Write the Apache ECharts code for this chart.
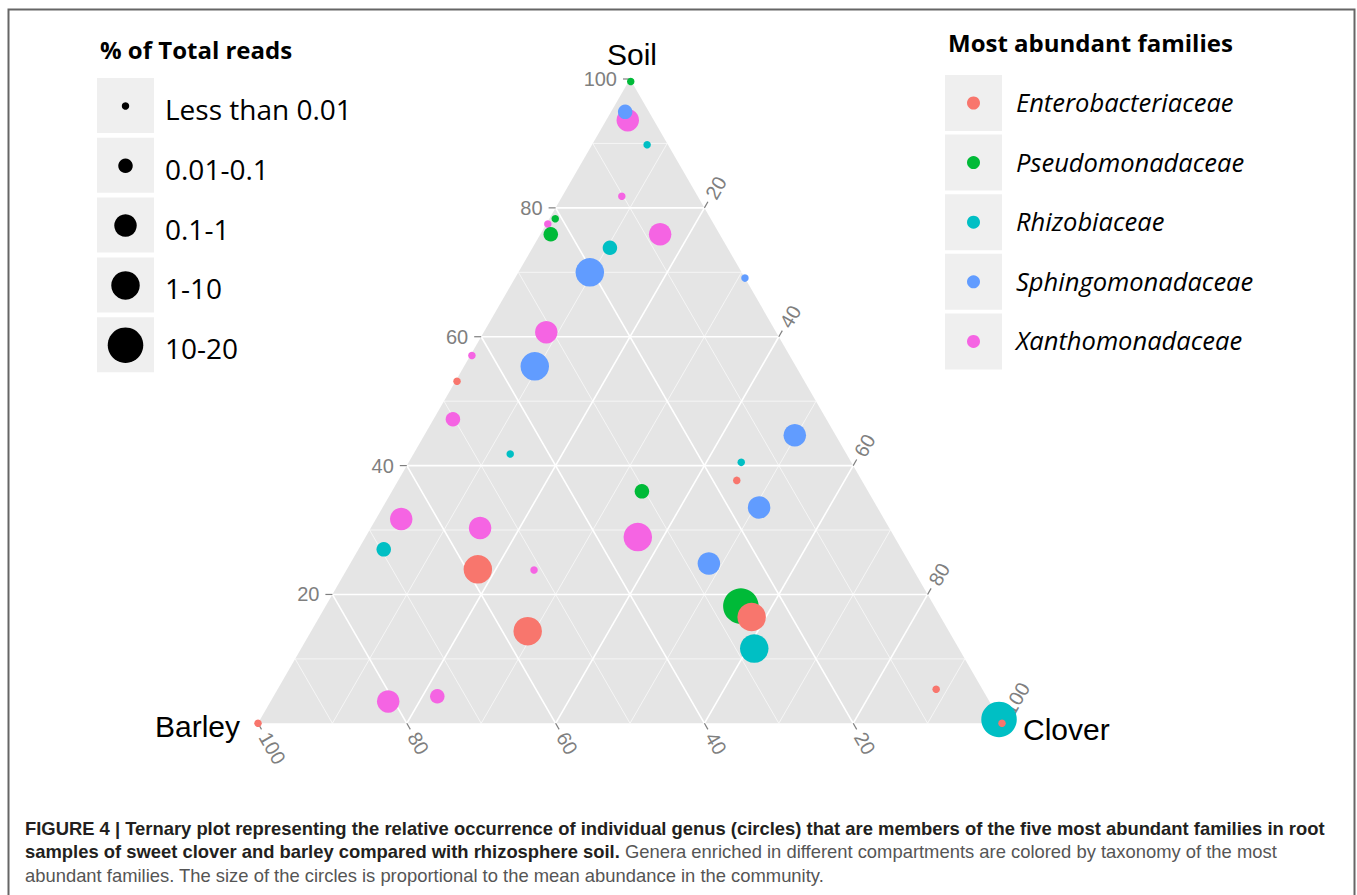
<!DOCTYPE html>
<html>
<head>
<meta charset="utf-8">
<script src="https://cdn.jsdelivr.net/npm/echarts@6/dist/echarts.min.js"></script>
<style>
  html, body { margin: 0; padding: 0; background: #ffffff; }
  #chart { width: 1357px; height: 895px; }
</style>
</head>
<body>
<div id="chart"></div>
<script>
// ---- Ternary axes -------------------------------------------------------
const AXIS_NAMES = ['Soil', 'Barley', 'Clover'];
const TICKS = [20, 40, 60, 80, 100];
const GRID_MAJOR = [20, 40, 60, 80];
const GRID_MINOR = [10, 30, 50, 70, 90];

// ---- Families and abundance classes ------------------------------------
const FAMILIES = ['Enterobacteriaceae', 'Pseudomonadaceae', 'Rhizobiaceae', 'Sphingomonadaceae', 'Xanthomonadaceae'];
const FAMILY_COLORS = ['#F8766D', '#00BA38', '#00BFC4', '#619CFF', '#F564E3'];
const ABUNDANCE_CLASSES = ['Less than 0.01', '0.01-0.1', '0.1-1', '1-10', '10-20'];
const CLASS_SIZES = [7.5, 14.5, 22.5, 28.5, 35.5];

// Genera: [soil %, barley %, clover %, abundance class index]
const enterobacteriaceae = [
  [53.1, 46.7, 0.2, 0],
  [23.9, 58.5, 17.6, 3],
  [14.3, 56.6, 29.1, 3],
  [0.0, 100.0, 0.0, 0],
  [37.7, 16.8, 45.5, 0],
  [16.5, 25.4, 58.1, 3],
  [5.3, 6.2, 88.5, 0],
  [0.0, 0.0, 100.0, 0]
];
const pseudomonadaceae = [
  [99.6, 0.1, 0.3, 0],
  [78.3, 20.9, 0.8, 0],
  [75.9, 22.7, 1.4, 1],
  [36.0, 30.4, 33.6, 1],
  [18.2, 26.0, 55.8, 4]
];
const rhizobiaceae = [
  [89.8, 2.8, 7.4, 0],
  [73.8, 15.8, 10.4, 1],
  [41.8, 45.2, 13.0, 0],
  [27.0, 69.6, 3.4, 1],
  [40.5, 14.8, 44.7, 0],
  [11.6, 27.5, 60.9, 3],
  [0.6, 0.1, 99.3, 4]
];
const sphingomonadaceae = [
  [94.9, 3.2, 1.9, 1],
  [70.0, 20.4, 9.6, 3],
  [69.1, 0.0, 30.9, 0],
  [55.4, 35.1, 9.5, 3],
  [24.8, 27.0, 48.2, 2],
  [44.7, 5.5, 49.8, 2],
  [33.5, 15.9, 50.6, 2]
];
const xanthomonadaceae = [
  [93.6, 3.5, 2.9, 2],
  [81.8, 10.2, 8.0, 0],
  [77.5, 22.3, 0.2, 0],
  [75.9, 8.0, 16.1, 2],
  [60.7, 30.9, 8.4, 2],
  [57.1, 42.7, 0.2, 0],
  [47.2, 50.2, 2.6, 1],
  [31.7, 64.9, 3.4, 2],
  [30.3, 55.0, 14.7, 2],
  [23.8, 51.0, 25.2, 0],
  [28.9, 34.5, 36.6, 3],
  [3.4, 80.8, 15.8, 2],
  [4.2, 73.8, 22.0, 1]
];
const FAMILY_POINTS = [enterobacteriaceae, pseudomonadaceae, rhizobiaceae, sphingomonadaceae, xanthomonadaceae];
// painting order, bottom to top
const DRAW_ORDER = [4, 1, 2, 3, 0];

// ---- Caption -------------------------------------------------------------
const CAPTION_LINES = [
  [['b', 'FIGURE 4 | Ternary plot representing the relative occurrence of individual genus (circles) that are members of the five most abundant families in root']],
  [['b', 'samples of sweet clover and barley compared with rhizosphere soil.'], ['r', ' Genera enriched in different compartments are colored by taxonomy of the most']],
  [['r', 'abundant families. The size of the circles is proportional to the mean abundance in the community.']]
];

// ---- Geometry helpers ----------------------------------------------------
const H = Math.sqrt(3) / 2;
// composition -> cartesian (x in 0..100, y in 0..100*H)
function toXY(soil, barley, clover) {
  const t = soil + barley + clover;
  return [(clover + soil / 2) / t * 100, soil / t * 100 * H];
}

const TICK_LEN = 7;
const TICK_GAPS = [6, 5, 5];
// outward tick directions (screen px) for soil (left), clover (right), barley (bottom)
const TICK_DIRS = [[-1, 0], [0.5, -H], [0.5, H]];
const TICK_ROT = [0, Math.PI / 3, -Math.PI / 3];
const TICK_FONT = '20px "Liberation Sans", Arial, Helvetica, sans-serif';
const TITLE_FONT = '30px "Liberation Sans", Arial, Helvetica, sans-serif';
const LEGEND_FONT = '"Open Sans", Lato, sans-serif';
const CAPTION_FONT = '18.4px "Liberation Sans", Arial, Helvetica, sans-serif';

// grid lines: [x1, y1, x2, y2, isMajor]
function ternaryLines(v, major) {
  const pairs = [
    [toXY(v, 100 - v, 0), toXY(v, 0, 100 - v)],     // soil = v
    [toXY(100 - v, 0, v), toXY(0, 100 - v, v)],     // clover = v
    [toXY(100 - v, v, 0), toXY(0, v, 100 - v)]      // barley = v
  ];
  return pairs.map(p => [p[0][0], p[0][1], p[1][0], p[1][1], major]);
}
const gridData = [];
GRID_MINOR.forEach(v => gridData.push(...ternaryLines(v, 0)));
GRID_MAJOR.forEach(v => gridData.push(...ternaryLines(v, 1)));

// tick marks: [x, y, axis index, value]
const tickData = [];
TICKS.forEach(v => {
  const s = toXY(v, 100 - v, 0);
  const c = toXY(100 - v, 0, v);
  const b = toXY(0, v, 100 - v);
  tickData.push([s[0], s[1], 0, v], [c[0], c[1], 1, v], [b[0], b[1], 2, v]);
});

// vertex titles: [x, y, name index]
const vertexData = [
  [...toXY(100, 0, 0), 0],
  [...toXY(0, 100, 0), 1],
  [...toXY(0, 0, 100), 2]
];
const TITLE_LAYOUT = [
  { dx: 2, dy: -10, align: 'center', va: 'bottom' },
  { dx: -18, dy: 3, align: 'right', va: 'middle' },
  { dx: 21, dy: 6, align: 'left', va: 'middle' }
];

const scatterSeries = DRAW_ORDER.map(fi => ({
  type: 'scatter',
  name: FAMILIES[fi],
  clip: false,
  z: 5,
  symbol: 'circle',
  symbolSize: val => CLASS_SIZES[val[2]],
  itemStyle: { color: FAMILY_COLORS[fi], opacity: 1 },
  data: FAMILY_POINTS[fi].map(p => [...toXY(p[0], p[1], p[2]), p[3]]),
  emphasis: { disabled: true }
}));

// ---- Legends (drawn as graphic elements) --------------------------------
const graphics = [];
// figure frame
graphics.push({
  type: 'rect', shape: { x: 8.5, y: 9.5, width: 1346, height: 900 },
  style: { fill: 'none', stroke: '#666666', lineWidth: 2 }, silent: true
});
// abundance legend
graphics.push({
  type: 'text', x: 100, y: 49,
  style: { text: '% of Total reads', font: 'bold 24px ' + LEGEND_FONT, fill: '#000', verticalAlign: 'middle' }
});
ABUNDANCE_CLASSES.forEach((label, i) => {
  const top = 78 + i * 59.8;
  graphics.push({ type: 'rect', shape: { x: 97, y: top, width: 57, height: 55 }, style: { fill: '#EFEFEF' } });
  graphics.push({ type: 'circle', shape: { cx: 125.5, cy: top + 28, r: CLASS_SIZES[i] / 2 }, style: { fill: '#000' } });
  graphics.push({
    type: 'text', x: 165, y: top + 31,
    style: { text: label, font: '28px ' + LEGEND_FONT, fill: '#000', verticalAlign: 'middle' }
  });
});
// family legend
graphics.push({
  type: 'text', x: 948, y: 42,
  style: { text: 'Most abundant families', font: 'bold 24px ' + LEGEND_FONT, fill: '#000', verticalAlign: 'middle' }
});
FAMILIES.forEach((name, i) => {
  const top = 75 + i * 59.6;
  graphics.push({ type: 'rect', shape: { x: 945, y: top, width: 57, height: 56 }, style: { fill: '#EFEFEF' } });
  graphics.push({ type: 'circle', shape: { cx: 973.5, cy: top + 28, r: 6.5 }, style: { fill: FAMILY_COLORS[i] } });
  graphics.push({
    type: 'text', x: 1016, y: top + 27,
    style: { text: name, font: 'italic 25.5px ' + LEGEND_FONT, fill: '#000', verticalAlign: 'middle' }
  });
});
// caption
CAPTION_LINES.forEach((parts, i) => {
  graphics.push({
    type: 'text', x: 25, y: 828 + i * 23.5,
    style: {
      text: parts.map(p => '{' + p[0] + '|' + p[1] + '}').join(''),
      verticalAlign: 'middle',
      rich: {
        b: { font: 'bold ' + CAPTION_FONT, fill: '#231F20' },
        r: { font: CAPTION_FONT, fill: '#555555' }
      }
    }
  });
});

const chart = echarts.init(document.getElementById('chart'), null, { renderer: 'svg' });
chart.setOption({
  animation: false,
  backgroundColor: '#ffffff',
  grid: { left: 258, top: 79, width: 744, height: 744 * H, containLabel: false },
  xAxis: { type: 'value', min: 0, max: 100, show: false },
  yAxis: { type: 'value', min: 0, max: 100 * H, show: false },
  tooltip: { show: false },
  series: [
    {
      // panel background
      type: 'custom', z: 1, silent: true,
      data: [[0, 0]],
      renderItem: (params, api) => {
        const pts = [toXY(0, 100, 0), toXY(0, 0, 100), toXY(100, 0, 0)].map(p => api.coord(p));
        return { type: 'polygon', shape: { points: pts }, style: { fill: '#E5E5E5' } };
      }
    },
    {
      // grid lines
      type: 'custom', z: 2, silent: true,
      data: gridData,
      renderItem: (params, api) => {
        const a = api.coord([api.value(0), api.value(1)]);
        const b = api.coord([api.value(2), api.value(3)]);
        const major = api.value(4) === 1;
        return {
          type: 'line',
          shape: { x1: a[0], y1: a[1], x2: b[0], y2: b[1] },
          style: { stroke: major ? '#FFFFFF' : 'rgba(255,255,255,0.8)', lineWidth: major ? 1.6 : 0.8 }
        };
      }
    },
    {
      // axis ticks and labels
      type: 'custom', z: 3, silent: true,
      data: tickData,
      renderItem: (params, api) => {
        const p = api.coord([api.value(0), api.value(1)]);
        const ax = api.value(2);
        const d = TICK_DIRS[ax];
        const e = [p[0] + d[0] * TICK_LEN, p[1] + d[1] * TICK_LEN];
        const l = [e[0] + d[0] * TICK_GAPS[ax], e[1] + d[1] * TICK_GAPS[ax]];
        return {
          type: 'group',
          children: [
            { type: 'line', shape: { x1: p[0], y1: p[1], x2: e[0], y2: e[1] }, style: { stroke: '#7F7F7F', lineWidth: 1.2 } },
            {
              type: 'text', x: l[0], y: l[1], rotation: TICK_ROT[ax],
              style: {
                text: String(api.value(3)), x: 0, y: 0,
                align: ax === 0 ? 'right' : 'left', verticalAlign: 'middle',
                fill: '#7F7F7F', font: TICK_FONT
              }
            }
          ]
        };
      }
    },
    {
      // vertex titles
      type: 'custom', z: 3, silent: true,
      data: vertexData,
      renderItem: (params, api) => {
        const p = api.coord([api.value(0), api.value(1)]);
        const i = api.value(2);
        const t = TITLE_LAYOUT[i];
        return {
          type: 'text', x: p[0] + t.dx, y: p[1] + t.dy,
          style: { text: AXIS_NAMES[i], align: t.align, verticalAlign: t.va, fill: '#000', font: TITLE_FONT }
        };
      }
    },
    ...scatterSeries
  ],
  graphic: { elements: graphics }
});
</script>
</body>
</html>
